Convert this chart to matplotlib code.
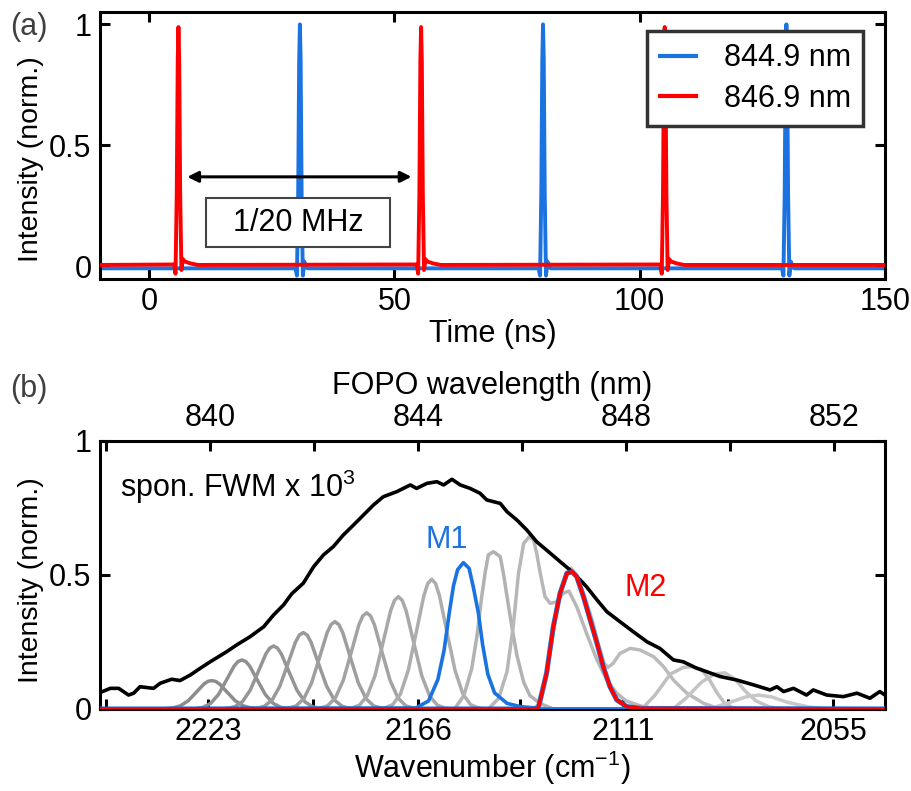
import matplotlib
matplotlib.use("Agg")
import matplotlib.pyplot as plt
import numpy as np

plt.rcParams['font.family'] = ['Liberation Sans', 'DejaVu Sans']
plt.rcParams['mathtext.fontset'] = 'custom'
plt.rcParams['mathtext.rm'] = 'Liberation Sans'
plt.rcParams['mathtext.it'] = 'Liberation Sans'
plt.rcParams['mathtext.bf'] = 'Liberation Sans'

# ---------------- Panel (a): time traces ----------------
blue_t = [-10,
          29.85, 30.15, 30.4, 30.6, 30.75, 30.9, 31.1, 31.35, 31.65, 32.05, 32.45,
          79.4, 79.7, 79.95, 80.15, 80.3, 80.45, 80.65, 80.9, 81.2, 81.6, 82.0,
          129.0, 129.3, 129.55, 129.75, 129.9, 130.05, 130.25, 130.5, 130.8, 131.2, 131.6,
          150]
blue_i = [-0.008,
          -0.008, -0.038, 0.3, 0.85, 1.0, 0.85, 0.3, -0.038, 0.02, -0.005, -0.008,
          -0.008, -0.038, 0.3, 0.85, 1.0, 0.85, 0.3, -0.038, 0.02, -0.005, -0.008,
          -0.008, -0.038, 0.3, 0.85, 1.0, 0.85, 0.3, -0.038, 0.02, -0.005, -0.008,
          -0.008]

red_t = [-10, 5.1, 5.4, 5.65, 5.85, 6.0, 6.15, 6.35, 6.6, 6.9, 7.3, 8.5, 10.0,
         54.55, 54.85, 55.1, 55.3, 55.45, 55.6, 55.8, 56.05, 56.35, 56.75, 57.95, 59.5,
         104.2, 104.5, 104.75, 104.95, 105.1, 105.25, 105.45, 105.7, 106.0, 106.4, 107.6, 109.1, 150]
red_i = [0.006, 0.008, -0.03, 0.3, 0.85, 0.989, 0.85, 0.3, -0.015, 0.03, 0.02, 0.012, 0.006,
         0.008, -0.03, 0.3, 0.85, 0.989, 0.85, 0.3, -0.015, 0.03, 0.02, 0.012, 0.006,
         0.008, -0.03, 0.3, 0.85, 0.989, 0.85, 0.3, -0.015, 0.03, 0.02, 0.012, 0.006, 0.006]

legend_labels = ['844.9 nm', '846.9 nm']
arrow_start, arrow_end, arrow_level = 7.8, 53.5, 0.37
period_label = '1/20 MHz'

# ---------------- Panel (b): spectra ----------------
fwm_wl = [837.88, 838.08, 838.24, 838.43, 838.53, 838.65, 838.91, 839.04, 839.26, 839.42,
          839.62, 839.81, 840.00, 840.32, 840.51, 840.77, 841.03, 841.22, 841.41, 841.57,
          841.79, 841.99, 842.18, 842.37, 842.56, 842.76, 842.95, 843.14, 843.33, 843.59,
          843.85, 843.97, 844.17, 844.36, 844.49, 844.65, 844.81, 845.00, 845.19, 845.32,
          845.58, 845.71, 845.90, 846.09, 846.28, 846.47, 846.73, 846.92, 847.12, 847.24,
          847.44, 847.63, 847.88, 848.14, 848.40, 848.65, 848.91, 849.10, 849.36, 849.55,
          849.81, 850.13, 850.45, 850.77, 850.90, 851.03, 851.22, 851.47, 851.60, 851.86,
          852.18, 852.44, 852.69, 852.88, 852.98]
fwm_int = [0.061, 0.077, 0.077, 0.052, 0.059, 0.083, 0.077, 0.096, 0.111, 0.106,
           0.127, 0.152, 0.176, 0.214, 0.239, 0.270, 0.307, 0.351, 0.388, 0.430,
           0.469, 0.531, 0.575, 0.606, 0.649, 0.687, 0.724, 0.761, 0.792, 0.811,
           0.836, 0.823, 0.842, 0.848, 0.836, 0.857, 0.836, 0.823, 0.805, 0.780,
           0.767, 0.736, 0.705, 0.668, 0.624, 0.593, 0.550, 0.519, 0.481, 0.456,
           0.407, 0.363, 0.326, 0.288, 0.251, 0.226, 0.183, 0.176, 0.152, 0.139,
           0.121, 0.108, 0.090, 0.071, 0.083, 0.065, 0.077, 0.052, 0.071, 0.052,
           0.046, 0.059, 0.040, 0.065, 0.052]

# gray FOPO spectra (wavelength nm, intensity)
g1_wl = [837.88, 838.98, 839.13, 839.28, 839.43, 839.58, 839.73, 839.88, 839.955, 840.03, 840.105, 840.18, 840.33, 840.48, 840.63, 840.78, 840.93, 841.08, 852.98]
g1_in = [0, 0, 0.001, 0.004, 0.012, 0.031, 0.062, 0.093, 0.103, 0.106, 0.103, 0.093, 0.062, 0.031, 0.012, 0.004, 0.001, 0, 0]
g2_wl = [837.88, 839.56, 839.71, 839.86, 840.01, 840.16, 840.31, 840.46, 840.535, 840.61, 840.685, 840.76, 840.91, 841.06, 841.21, 841.36, 841.51, 841.66, 852.98]
g2_in = [0, 0, 0.001, 0.006, 0.021, 0.054, 0.107, 0.160, 0.177, 0.183, 0.177, 0.160, 0.107, 0.054, 0.021, 0.006, 0.001, 0, 0]
g3_wl = [837.88, 840.17, 840.32, 840.47, 840.62, 840.77, 840.92, 841.07, 841.145, 841.22, 841.295, 841.37, 841.52, 841.67, 841.82, 841.97, 842.12, 842.27, 852.98]
g3_in = [0, 0, 0.002, 0.008, 0.027, 0.070, 0.137, 0.205, 0.227, 0.235, 0.227, 0.205, 0.137, 0.070, 0.027, 0.008, 0.002, 0, 0]
g4_wl = [837.88, 840.74, 840.89, 841.04, 841.19, 841.34, 841.49, 841.64, 841.715, 841.79, 841.865, 841.94, 842.09, 842.24, 842.39, 842.54, 842.69, 842.84, 852.98]
g4_in = [0, 0, 0.002, 0.010, 0.033, 0.085, 0.166, 0.249, 0.276, 0.285, 0.276, 0.249, 0.166, 0.085, 0.033, 0.010, 0.002, 0, 0]
g5_wl = [837.88, 841.35, 841.5, 841.65, 841.8, 841.95, 842.1, 842.25, 842.325, 842.4, 842.475, 842.55, 842.7, 842.85, 843.0, 843.15, 843.3, 843.45, 852.98]
g5_in = [0, 0, 0.003, 0.011, 0.038, 0.097, 0.190, 0.285, 0.315, 0.326, 0.315, 0.285, 0.190, 0.097, 0.038, 0.011, 0.003, 0, 0]
g6_wl = [837.88, 841.96, 842.11, 842.26, 842.41, 842.56, 842.71, 842.86, 842.935, 843.01, 843.085, 843.16, 843.31, 843.46, 843.61, 843.76, 843.91, 844.06, 852.98]
g6_in = [0, 0, 0.003, 0.012, 0.042, 0.107, 0.209, 0.314, 0.347, 0.359, 0.347, 0.314, 0.209, 0.107, 0.042, 0.012, 0.003, 0, 0]
g7_wl = [837.88, 842.57, 842.72, 842.87, 843.02, 843.17, 843.32, 843.47, 843.545, 843.62, 843.695, 843.77, 843.92, 844.07, 844.22, 844.37, 844.52, 844.67, 852.98]
g7_in = [0, 0, 0.003, 0.014, 0.049, 0.124, 0.244, 0.366, 0.405, 0.419, 0.405, 0.366, 0.244, 0.124, 0.049, 0.014, 0.003, 0, 0]
g8_wl = [837.88, 843.21, 843.36, 843.51, 843.66, 843.81, 843.96, 844.11, 844.185, 844.26, 844.335, 844.41, 844.56, 844.71, 844.86, 845.01, 845.16, 845.31, 852.98]
g8_in = [0, 0, 0.004, 0.016, 0.056, 0.144, 0.282, 0.423, 0.468, 0.484, 0.468, 0.423, 0.282, 0.144, 0.056, 0.016, 0.004, 0, 0]
g9_wl = [837.88, 844.7, 844.88, 845.03, 845.13, 845.22, 845.29, 845.35, 845.45, 845.58, 845.64, 845.71, 845.80, 845.90, 846.03, 846.15, 846.35, 846.6, 852.98]
g9_in = [0, 0, 0.05, 0.15, 0.27, 0.415, 0.51, 0.575, 0.587, 0.568, 0.506, 0.419, 0.31, 0.2, 0.1, 0.05, 0.02, 0, 0]
g10_wl = [837.88, 845.35, 845.55, 845.71, 845.83, 845.93, 846.03, 846.14, 846.22, 846.28, 846.35, 846.44, 846.54, 846.67, 846.79, 846.9,
          847.05, 847.24, 847.44, 847.63, 847.82, 848.0, 848.3, 848.6, 852.98]
g10_in = [0, 0, 0.04, 0.14, 0.31, 0.506, 0.618, 0.643, 0.631, 0.581, 0.506, 0.419, 0.394, 0.40, 0.432, 0.44,
          0.382, 0.282, 0.183, 0.108, 0.059, 0.03, 0.01, 0, 0]
g11_wl = [837.88, 846.2, 846.35, 846.47, 846.6, 846.73, 846.86, 846.94, 847.05, 847.2, 847.35, 847.47, 847.58, 847.65, 847.75, 847.88,
          848.08, 848.27, 848.53, 848.72, 848.91, 849.04, 849.17, 849.49, 849.8, 852.98]
g11_in = [0, 0, 0.02, 0.12, 0.29, 0.43, 0.51, 0.525, 0.50, 0.42, 0.33, 0.24, 0.17, 0.155, 0.17, 0.207,
          0.226, 0.220, 0.195, 0.158, 0.108, 0.083, 0.059, 0.021, 0, 0]
g12_wl = [837.88, 848.3, 848.55, 848.85, 849.1, 849.25, 849.45, 849.6, 849.75, 849.9, 850.1, 852.98]
g12_in = [0, 0, 0.05, 0.13, 0.155, 0.158, 0.148, 0.11, 0.06, 0.02, 0, 0]
g13_wl = [837.88, 848.9, 849.15, 849.45, 849.7, 849.9, 850.1, 850.3, 850.5, 850.75, 851.0, 852.98]
g13_in = [0, 0, 0.04, 0.10, 0.13, 0.135, 0.11, 0.065, 0.03, 0.008, 0, 0]
g14_wl = [837.88, 849.6, 850.0, 850.3, 850.55, 850.8, 851.1, 851.5, 851.9, 852.98]
g14_in = [0, 0, 0.025, 0.045, 0.052, 0.045, 0.025, 0.008, 0, 0]

gray_wl = [g1_wl, g2_wl, g3_wl, g4_wl, g5_wl, g6_wl, g7_wl, g8_wl, g9_wl, g10_wl, g11_wl, g12_wl, g13_wl, g14_wl]
gray_in = [g1_in, g2_in, g3_in, g4_in, g5_in, g6_in, g7_in, g8_in, g9_in, g10_in, g11_in, g12_in, g13_in, g14_in]

m1_wl = [837.88, 843.95, 844.2, 844.38, 844.5, 844.6, 844.68, 844.76, 844.87, 844.98, 845.06, 845.16, 845.24, 845.34, 845.47, 845.71, 845.96, 846.3, 846.4, 852.98]
m1_in = [0, 0.003, 0.03, 0.11, 0.22, 0.36, 0.46, 0.52, 0.546, 0.525, 0.456, 0.357, 0.24, 0.13, 0.06, 0.021, 0.009, 0.003, 0, 0]
m2_wl = [837.88, 846.2, 846.31, 846.47, 846.60, 846.73, 846.86, 846.96, 847.05, 847.18, 847.31, 847.44, 847.56, 847.69, 847.82, 848.01, 848.3, 852.98]
m2_in = [0, 0, 0.003, 0.133, 0.307, 0.432, 0.506, 0.512, 0.494, 0.419, 0.332, 0.245, 0.158, 0.083, 0.034, 0.009, 0.002, 0]

wl_ticks = [838, 840, 842, 844, 846, 848, 850, 852]
wl_labels = ['', '840', '', '844', '', '848', '', '852']
wn_ticks = [2251, 2223, 2194.5, 2166, 2138.5, 2111, 2083, 2055]
wn_labels = ['', '2223', '', '2166', '', '2111', '', '2055']
WN_OFFSET = 9682.3

# ---------------- styles ----------------
BLUE = '#1a73e0'
RED = '#ff0000'
gray_colors = ['#8c8c8c', '#909090', '#959595', '#999999', '#9e9e9e', '#a3a3a3', '#a8a8a8',
               '#adadad', '#b2b2b2', '#b7b7b7', '#bbbbbb', '#c0c0c0', '#c4c4c4', '#c8c8c8']
FS = 22
YL_FS = 20.5
SPINE_W = 2.2

fig = plt.figure(figsize=(9.12, 7.91), dpi=100)
ax1 = fig.add_axes([0.1096, 0.6473, 0.8608, 0.3375])
ax2 = fig.add_axes([0.1096, 0.1037, 0.8608, 0.3388])

# ---- panel a ----
ax1.plot(blue_t, blue_i, color=BLUE, lw=2.8, label=legend_labels[0], zorder=2)
ax1.plot(red_t, red_i, color=RED, lw=2.8, label=legend_labels[1], zorder=3)
ax1.set_xlim(-10, 150)
ax1.set_ylim(-0.052, 1.051)
ax1.set_xticks([0, 50, 100, 150])
ax1.set_yticks([0, 0.5, 1])
ax1.set_yticklabels(['0', '0.5', '1'])
ax1.tick_params(direction='in', length=7, width=SPINE_W, labelsize=FS,
                top=True, right=True, pad=6)
ax1.set_xlabel('Time (ns)', fontsize=FS, labelpad=1)
ax1.set_ylabel('Intensity (norm.)', fontsize=YL_FS)
ax1.yaxis.set_label_coords(-0.071, 0.45)
for s in ax1.spines.values():
    s.set_linewidth(SPINE_W)

leg = ax1.legend(loc='upper right', bbox_to_anchor=(0.972, 0.929), borderaxespad=0,
                 fontsize=FS, frameon=True, fancybox=False, framealpha=1,
                 handlelength=1.2, handletextpad=0.9, borderpad=0.4, labelspacing=0.35)
leg.get_frame().set_edgecolor('#333333')
leg.get_frame().set_linewidth(2.5)
for h in leg.get_lines():
    h.set_linewidth(3)

ax1.annotate('', xy=(arrow_end, arrow_level), xytext=(arrow_start, arrow_level),
             arrowprops=dict(arrowstyle='<|-|>', color='black', lw=2.2,
                             mutation_scale=16, shrinkA=0, shrinkB=0), zorder=5)
ax1.text(30.4, 0.18, '  ' + period_label + '  ', fontsize=FS, ha='center', va='center',
         zorder=6, bbox=dict(boxstyle='square,pad=0.31', fc='white', ec='#444444', lw=1.5))

# ---- panel b ----
for wl, it, c in zip(gray_wl, gray_in, gray_colors):
    ax2.plot(wl, it, color=c, lw=2.5, zorder=2)
ax2.plot(fwm_wl, fwm_int, color='black', lw=2.6, zorder=3)
ax2.plot(m1_wl, m1_in, color=BLUE, lw=2.6, zorder=4)
ax2.plot(m2_wl, m2_in, color=BLUE, lw=3.6, zorder=4)
ax2.plot(m2_wl, m2_in, color=RED, lw=2.6, zorder=5)

ax2.set_xlim(837.88, 852.98)
ax2.set_ylim(0, 1)
ax2.xaxis.tick_top()
ax2.xaxis.set_label_position('top')
ax2.set_xticks(wl_ticks)
ax2.set_xticklabels(wl_labels)
ax2.set_yticks([0, 0.5, 1])
ax2.set_yticklabels(['0', '0.5', '1'])
ax2.tick_params(direction='in', length=7, width=SPINE_W, labelsize=FS,
                right=True, pad=6)
ax2.set_xlabel('FOPO wavelength (nm)', fontsize=FS, labelpad=6)
ax2.set_ylabel('Intensity (norm.)', fontsize=YL_FS)
ax2.yaxis.set_label_coords(-0.071, 0.48)
for s in ax2.spines.values():
    s.set_linewidth(SPINE_W)


def nm2wn(x):
    x = np.asarray(x, dtype=float)
    return 1e7 / x - WN_OFFSET


def wn2nm(v):
    v = np.asarray(v, dtype=float)
    return 1e7 / (v + WN_OFFSET)


sec = ax2.secondary_xaxis('bottom', functions=(nm2wn, wn2nm))
sec.set_xticks(wn_ticks)
sec.set_xticklabels(wn_labels)
sec.tick_params(direction='in', length=7, width=SPINE_W, labelsize=FS, pad=6)
sec.spines['bottom'].set_linewidth(SPINE_W)
sec.set_xlabel(r'Wavenumber (cm$^{\mathregular{-1}}$)', fontsize=FS, labelpad=1)

ax2.text(0.026, 0.79, r'spon. FWM x 10$^{\mathregular{3}}$', transform=ax2.transAxes,
         fontsize=FS, ha='left', va='baseline', zorder=6)
ax2.text(844.54, 0.63, 'M1', color=BLUE, fontsize=FS, ha='center', va='center')
ax2.text(848.37, 0.45, 'M2', color=RED, fontsize=FS, ha='center', va='center')

fig.text(0.011, 0.985, '(a)', fontsize=FS, color='#404040', ha='left', va='top')
fig.text(0.011, 0.527, '(b)', fontsize=FS, color='#404040', ha='left', va='top')

fig.savefig('out.png', dpi=100)
